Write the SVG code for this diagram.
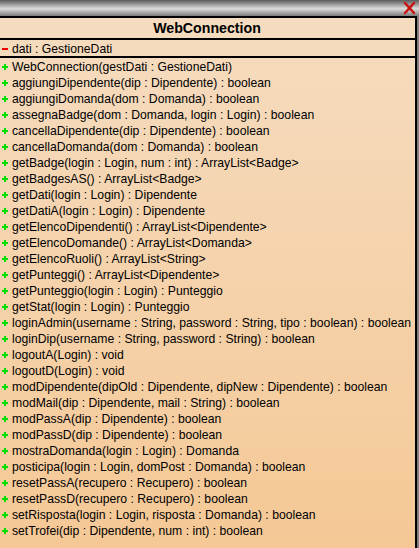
<svg xmlns="http://www.w3.org/2000/svg" width="419" height="548" viewBox="0 0 419 548">
<defs>
<linearGradient id="bar" x1="0" y1="0" x2="0" y2="1">
<stop offset="0" stop-color="#5a5a5a"/>
<stop offset="0.2" stop-color="#8a8a8a"/>
<stop offset="0.55" stop-color="#dcdcdc"/>
<stop offset="1" stop-color="#7a7a7a"/>
</linearGradient>
<linearGradient id="bg" x1="0" y1="0" x2="0" y2="1">
<stop offset="0" stop-color="#f5dcc0"/>
<stop offset="1" stop-color="#f5c895"/>
</linearGradient>
<g id="plus"><rect x="-3" y="-1" width="6" height="2" fill="#00e000"/><rect x="-1" y="-3" width="2" height="6" fill="#00e000"/></g>
<style>
text{font-family:"Liberation Sans",Arial,sans-serif;font-size:12.2px;fill:#000}
.t{font-weight:bold;font-size:14.2px}
</style>
</defs>
<rect x="0" y="0" width="419" height="548" fill="#808080"/>
<rect x="0" y="0" width="419" height="16" fill="url(#bar)"/>
<g id="close" stroke="#cc1111" stroke-width="2.5" stroke-linecap="round">
<line x1="405" y1="3" x2="414" y2="13"/><line x1="414" y1="3" x2="405" y2="13"/>
</g>
<g id="WebConnection">
<rect x="0" y="16" width="417" height="540" fill="url(#bg)"/>
<rect x="415" y="16" width="2" height="532" fill="#000"/>
<rect x="0" y="16" width="417" height="2" fill="#000"/>
<rect x="0" y="38" width="417" height="2" fill="#000"/>
<rect x="0" y="56" width="417" height="2" fill="#000"/>
<text class="t" x="207" y="33" text-anchor="middle">WebConnection</text>
<rect x="2" y="48" width="6" height="2" fill="#ee0000"/>
<text x="12" y="53">dati : GestioneDati</text>
<use href="#plus" x="5" y="67"/><text x="12" y="71">WebConnection(gestDati : GestioneDati)</text>
<use href="#plus" x="5" y="83"/><text x="12" y="87">aggiungiDipendente(dip : Dipendente) : boolean</text>
<use href="#plus" x="5" y="99"/><text x="12" y="103">aggiungiDomanda(dom : Domanda) : boolean</text>
<use href="#plus" x="5" y="115"/><text x="12" y="119">assegnaBadge(dom : Domanda, login : Login) : boolean</text>
<use href="#plus" x="5" y="131"/><text x="12" y="135">cancellaDipendente(dip : Dipendente) : boolean</text>
<use href="#plus" x="5" y="147"/><text x="12" y="151">cancellaDomanda(dom : Domanda) : boolean</text>
<use href="#plus" x="5" y="163"/><text x="12" y="167">getBadge(login : Login, num : int) : ArrayList&lt;Badge&gt;</text>
<use href="#plus" x="5" y="179"/><text x="12" y="183">getBadgesAS() : ArrayList&lt;Badge&gt;</text>
<use href="#plus" x="5" y="195"/><text x="12" y="199">getDati(login : Login) : Dipendente</text>
<use href="#plus" x="5" y="211"/><text x="12" y="215">getDatiA(login : Login) : Dipendente</text>
<use href="#plus" x="5" y="227"/><text x="12" y="231">getElencoDipendenti() : ArrayList&lt;Dipendente&gt;</text>
<use href="#plus" x="5" y="243"/><text x="12" y="247">getElencoDomande() : ArrayList&lt;Domanda&gt;</text>
<use href="#plus" x="5" y="259"/><text x="12" y="263">getElencoRuoli() : ArrayList&lt;String&gt;</text>
<use href="#plus" x="5" y="275"/><text x="12" y="279">getPunteggi() : ArrayList&lt;Dipendente&gt;</text>
<use href="#plus" x="5" y="291"/><text x="12" y="295">getPunteggio(login : Login) : Punteggio</text>
<use href="#plus" x="5" y="307"/><text x="12" y="311">getStat(login : Login) : Punteggio</text>
<use href="#plus" x="5" y="323"/><text x="12" y="327">loginAdmin(username : String, password : String, tipo : boolean) : boolean</text>
<use href="#plus" x="5" y="339"/><text x="12" y="343">loginDip(username : String, password : String) : boolean</text>
<use href="#plus" x="5" y="355"/><text x="12" y="359">logoutA(Login) : void</text>
<use href="#plus" x="5" y="371"/><text x="12" y="375">logoutD(Login) : void</text>
<use href="#plus" x="5" y="387"/><text x="12" y="391">modDipendente(dipOld : Dipendente, dipNew : Dipendente) : boolean</text>
<use href="#plus" x="5" y="403"/><text x="12" y="407">modMail(dip : Dipendente, mail : String) : boolean</text>
<use href="#plus" x="5" y="419"/><text x="12" y="423">modPassA(dip : Dipendente) : boolean</text>
<use href="#plus" x="5" y="435"/><text x="12" y="439">modPassD(dip : Dipendente) : boolean</text>
<use href="#plus" x="5" y="451"/><text x="12" y="455">mostraDomanda(login : Login) : Domanda</text>
<use href="#plus" x="5" y="467"/><text x="12" y="471">posticipa(login : Login, domPost : Domanda) : boolean</text>
<use href="#plus" x="5" y="483"/><text x="12" y="487">resetPassA(recupero : Recupero) : boolean</text>
<use href="#plus" x="5" y="499"/><text x="12" y="503">resetPassD(recupero : Recupero) : boolean</text>
<use href="#plus" x="5" y="515"/><text x="12" y="519">setRisposta(login : Login, risposta : Domanda) : boolean</text>
<use href="#plus" x="5" y="531"/><text x="12" y="535">setTrofei(dip : Dipendente, num : int) : boolean</text>
</g>
<g id="connectors"/>
</svg>
